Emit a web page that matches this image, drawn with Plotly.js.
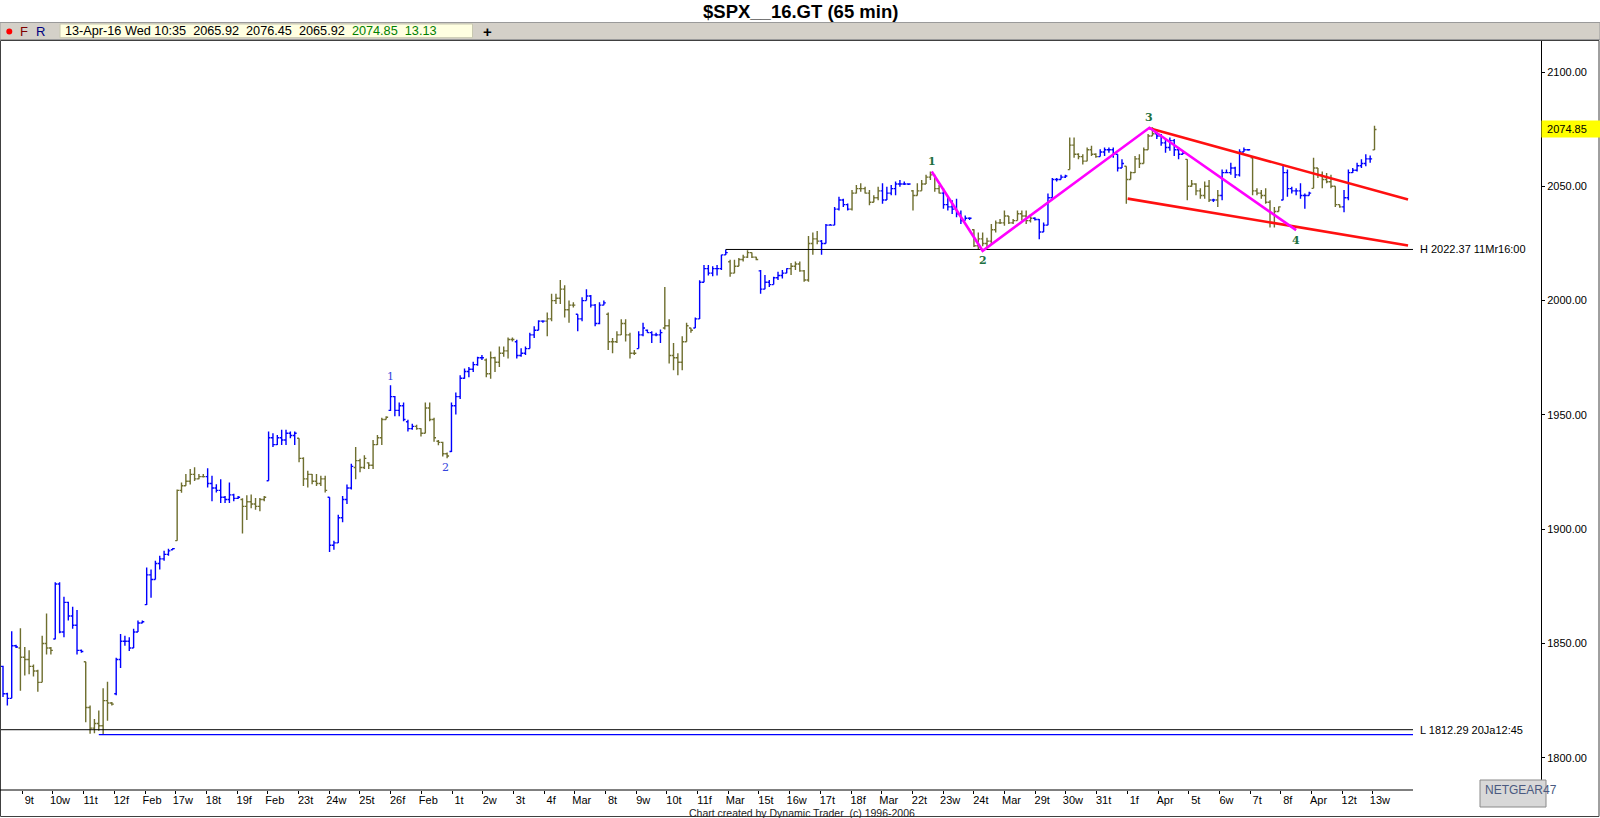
<!DOCTYPE html>
<html>
<head>
<meta charset="utf-8">
<script src="https://cdn.plot.ly/plotly-3.0.1.min.js"></script>
<style>
html,body{margin:0;padding:0;background:#ffffff;}
#chart{width:1600px;height:818px;}
</style>
</head>
<body>
<div id="chart"></div>
<script>
// ===== DATA: 65-min bars of $SPX, index 0 = first visible bar =====
const opens = [
1840,1828,1826,1849,1848,1844,1843,1840,1838,1833,1850,1848,
1852,1876,1855,1868,1862,1858,1847,1842,1822,1813,1815,1814,1825,1824,
1828,1843,1851,1851,1848,1855,1859,1867,1880,1878,1885,1887,1889,1891,
1895,1917,1919,1921,1924,1922,1923,
1923,1920,1918,1917,1914,1913,1915,1913.5,1913,1910,1912,1911,1910,1913,
1921.2,1940,1937,1940,1939,1942,1941,1939.8,1931,1922,1924,1921,1920,1922,
1914,1893,1894,1905,1913,1918,1927,1930,1927,1929,1928,1937,1940,1948,1952,1958,1952,
1954,1947,1944,1945,1944,1942,1953,1948,1938.5,1938,1933,
1934,1954,1958,1966,1969,1970,1972,1975,1974,1968,1975,1973,1977,1978,1983,
1982,1976,1977,1979,1985,1987,1991,1991,1992,2000,2001,2005,1996,1998,
1994,1992,2000,2002,1998,1990,1998,1994,1982,1982,1985,1990,1985,1977,1979,
1985,1987,1986,1985,1985,1988,1989,1976,1975,1973,1982,1988,1988,1992,2008,
2014,2012,2014,2014,2020,2017,2012,2015,2018,2019,2021,2019,
2013,2005,2008,2007,2010,2011,2012,2014,2015,2016,2013,2009,2025,2027,
2026,2025,2033,2033,2040,2044,2042,2040,2047,2049,2049,2047,2043,2045,
2048,2044,2047,2049,2051,2051,2051,2048,2046,2048,2051,2054,2055,2049,
2047,2042,2041,2040,2038,2035,2036,2031,2024,2027,2025,2026,2031,2034,
2034,2037,2034,2035,2038,2037,2035,2036,2035.5,2030,2033,2045,2053,2053,2054,
2057.3,2068,2064,2063,2061,2066,2064,2063,2065,2066,2066,2064,2058,
2058.8,2053,2056,2062,2060,2066,2072,2073,2072,2069,2067,2070,2066,2064,
2061.8,2050,2051,2048,2046,2050,2044,2044,2046,2056,2056,2058,2055,2065,2066,
2062.5,2048,2047,2046,2043,2034,2039,2044,2056,2049,2048,2048,2046,2046,
2049.1,2058,2055,2053,2052,2050,2042,2041,2045,2056,2057,2059,2060,2062,2065.92
];
const highs = [
1840.3,1828.5,1855.4,1849.5,1856.7,1848.5,1847,1840.8,1838.5,1853.4,1863.1,1848.5,
1876.8,1876.8,1870.5,1868.3,1866.1,1864.6,1847.4,1842,1822.9,1817,1820.7,1830.4,1833.3,1824.4,
1843.8,1854.2,1853.4,1852.7,1856.4,1860.1,1860.1,1883.2,1882.4,1886.2,1888.4,1890.6,1891.4,1891.8,
1917.4,1920.4,1924.1,1926.3,1927.1,1924.1,1924.1,
1926.7,1923.4,1919.7,1921.9,1914.5,1920.4,1915.5,1914.5,1913.5,1914.8,1915.2,1913.7,1913.7,1914.5,
1942.7,1942,1941.2,1943.5,1943.5,1942.7,1942.7,1939.8,1931.5,1925.6,1924.1,1924.1,1923.4,1923.4,
1914,1895,1906.3,1914.5,1919.5,1928.6,1936,1930.8,1932.3,1929.3,1939,1941.2,1948.7,1949.4,1963,1958.3,1955.4,
1955.4,1947.9,1946.1,1945.7,1944.2,1955.4,1955.4,1948.7,1939,1938.3,1933.5,
1955.4,1959.8,1967.3,1970.3,1971,1973.2,1975.4,1976.2,1974.7,1977.7,1975.4,1979.9,1979.9,1983.9,1983.9,
1982.9,1979.2,1979.9,1985.9,1988.8,1991.4,1991.4,1994.8,2003,2003,2009,2006.7,2000,1999.3,
1994,2001.5,2005,2002.5,1998.5,1999.3,2000,1994.8,1983.6,1986.6,1991.8,1991.8,1985.9,1978.4,1986.6,
1990.3,1987.4,1986.6,1985.9,1987.4,2006,1991.8,1981.4,1977,1984.4,1990.3,1988.1,1992.6,2008.9,2015.6,
2015.6,2015,2015.6,2020.1,2022.4,2017.9,2017.9,2018.6,2020.1,2022,2021,2019.2,
2013.4,2011.2,2009,2010.4,2012.6,2013.4,2014.2,2016.4,2017.1,2017.1,2013.4,2028.3,2029.8,2030.5,
2026.5,2033.5,2033.5,2040.9,2045.4,2044.5,2042.5,2048.4,2050.6,2051.3,2049.8,2048.4,2046.1,2049.8,
2051.3,2049.8,2050.6,2052.1,2052.8,2052.1,2051.3,2048.4,2051.3,2052.8,2055,2056.5,2055,2050.6,
2049.1,2045.4,2043.9,2044.6,2039.4,2037.2,2036.5,2031.2,2029.8,2029.8,2027.5,2033.5,2035,2035.7,
2039.4,2037,2035.7,2039.4,2039.4,2039.4,2037.9,2036.5,2035.7,2034.2,2046.9,2053.6,2053.6,2055,2055,
2071.4,2071.4,2064.5,2064,2067,2067.7,2064.5,2066.2,2067,2067,2067,2064,2061.8,
2058.8,2056.5,2063.2,2064,2067,2072.9,2075.8,2073.6,2072.9,2070.7,2071.4,2070.7,2067,2065.5,
2061.8,2052.8,2051.3,2049.1,2052.1,2052.8,2044.6,2048.4,2057.3,2057.3,2060.3,2058.5,2066.2,2067,2066.2,
2062.5,2049.1,2048.4,2049.1,2043.9,2040.9,2041.2,2059.5,2057.3,2049.8,2049.1,2051.3,2046.9,2047.6,
2062.5,2058,2056.5,2055.8,2055,2050,2042,2048.4,2057.3,2058,2060.3,2061.8,2064,2063.5,2076.45
];
const lows = [
1826.6,1822.9,1826,1848,1829.3,1836,1836.6,1835.6,1828.9,1833,1845.2,1845.2,
1851.9,1854.5,1852.7,1860.1,1856.4,1845.2,1846,1815.5,1810.5,1810.7,1811.8,1810.2,1816.2,1822.9,
1827.4,1839.3,1849,1846.7,1848,1855,1858.9,1866.8,1870,1878,1882.4,1886.2,1888.4,1891,
1895,1915.9,1919,1919.6,1921.1,1921.9,1922.6,
1918.2,1912.2,1916,1911.5,1911.5,1911.5,1912.2,1913.2,1898.1,1904,1909.2,1908.5,1907.8,1912.2,
1921.2,1936,1936.8,1936.8,1936.8,1939.8,1936.8,1929.3,1918.9,1918.2,1919.7,1918.9,1918.9,1916,
1890,1891,1894,1903,1911,1917.4,1921.9,1924.9,1926.3,1926.3,1926.3,1936.8,1936.8,1948,1951.7,1949.4,1949.4,
1947.2,1942.7,1943.5,1943.5,1940.5,1942,1947.2,1938.3,1936.7,1931.8,1931,
1933.8,1950.2,1957,1965.8,1966.5,1968.8,1971.5,1974,1966.5,1965.8,1968.8,1971,1975.4,1974.7,1982.1,
1974.7,1975.4,1976.2,1979,1983.6,1987,1990.3,1984.4,1991,1998.5,1998.5,1992.6,1990.3,1997,
1986.6,1991,2000,1997,1988.8,1989.6,1998,1978.4,1977,1981.5,1985,1982.1,1974.7,1976.2,1979,
1984.4,1985.9,1981.4,1984.4,1981.4,1987.4,1972.5,1969.5,1967.3,1969.5,1982,1985.9,1988,1992,2008,
2011,2010.6,2011,2013.4,2020,2010.4,2012,2015,2017.1,2018.6,2018.6,2017.6,
2003,2005,2006,2007,2009,2009.7,2012,2011.2,2013.4,2012.6,2008.2,2008.2,2020.1,2024.6,
2020.1,2025,2032.7,2033,2039.4,2040.9,2039.4,2039.4,2046.9,2047.6,2046.9,2041.7,2043,2043.9,
2042.4,2044,2046.1,2046.1,2049.8,2050.6,2050.6,2039.4,2046,2048,2051,2052.8,2047.6,2046.9,
2040.2,2039.4,2037.9,2036.5,2033.5,2035,2035.3,2023.5,2022.5,2023.8,2023.1,2024.6,2029.8,2033.5,
2032.7,2033.5,2033.5,2035,2035,2033.5,2034.2,2035,2026.8,2030,2033,2045,2052.1,2053,2053.6,
2057.3,2062.5,2061.8,2059.5,2061,2063.2,2062.5,2063,2063.2,2064.7,2062.5,2056.5,2058,
2042.4,2053,2055.8,2058,2060,2066,2072,2070.7,2067.7,2064.7,2065.5,2063.2,2061.8,2064,
2043.9,2049.8,2046.1,2044.6,2044.6,2043.1,2043.1,2040.9,2043.9,2055.8,2055,2053.6,2054.3,2065,2065.5,
2046.1,2046.1,2044.6,2042.4,2032,2032,2039,2043.9,2045.4,2046.9,2046.1,2044.6,2040.2,2046,
2049.1,2053.6,2049.1,2051.3,2049.1,2040.9,2040.6,2038.7,2043.9,2055.8,2056.5,2058,2058.8,2060.3,2065.92
];
const closes = [
1828,1826,1849,1848.5,1844,1843,1840,1838,1833,1850,1848,1847,
1876,1855,1868,1862,1858,1847,1846.5,1822,1813,1815,1814,1825,1824,1823.5,
1843,1851,1851,1848,1855,1859,1859.5,1880,1878,1885,1887,1889,1890.5,1891.5,
1917,1919,1921,1924,1922,1923,1923,
1920,1918,1917,1914,1913,1915,1913.5,1914,1910,1912,1911,1910,1913,1914,
1940,1937,1940,1939,1942,1941,1942,1931,1922,1924,1921,1920,1922,1917,
1893,1894,1905,1913,1918,1927.5,1930,1927,1931,1928,1937,1940,1948,1949,1958,1952,1954,
1948,1944,1945,1944,1942,1953,1948,1940,1938,1933,1932,
1954,1958,1966,1969,1970,1972,1975,1975,1968,1975,1973,1977,1978,1983,1983,
1976,1977,1979,1985,1987,1991,1991,1992,2000,2001,2005,1996,1998,1998,
1992,2000,2002,1998,1990,1998,1999,1982,1982,1985,1990,1985,1977,1977,1985,
1988,1986,1985,1985,1986,1989,1976,1975,1973,1982,1989,1987,1992,2008,2014,
2012,2014,2014,2020,2021,2012,2015,2018,2019,2021,2019,2018,
2005,2008,2007,2010,2011,2012,2014,2015,2016,2013,2009,2025,2027,2026,
2025,2033,2033,2040,2044,2042,2040,2047,2049,2049,2047,2043,2045,2048,
2044,2047,2049,2051,2051,2051,2051,2046,2048,2051,2054,2055,2049,2047,
2042,2041,2040,2038,2035,2036,2036,2024,2027,2025,2026,2031,2034,2034,
2037,2034,2035,2038,2037,2035,2036,2035.5,2030,2033,2045,2053,2053,2054,2054.5,
2068,2064,2063,2061,2066,2064,2063,2065,2066,2066,2064,2058,2060,
2053,2056,2062,2060,2066,2072,2073,2072,2069,2067,2070,2066,2064,2064.5,
2050,2051,2048,2046,2050,2044,2044,2046,2056,2056,2058,2055,2065,2066,2066,
2048,2047,2046,2043,2034,2039,2041,2056,2049,2048,2048,2046,2046,2047,
2058,2055,2053,2052,2050,2042,2041,2045,2056,2057,2059,2060,2062,2062,2074.85
];
// bar colour class: B = blue swing, O = olive swing
const trend = (
"BBBBOOOOOOOO" + "BBBBBBBOOOOOOO" + "BBBBBBBBBBBBBB" + "OOOOOOO" +
"BBBBBBBBOOOOOO" + "BBBBBBBOOOOOOO" + "BBBBBBOOOOOOOOBBB" +
"BBBOOOOOOOO" + "BBBBBBBBOOOOOOO" + "BBBBBBBOOOOOOO" + "BBBBBBBOOOOOOOB" +
"BBBBBOOOOOOOBBB" + "BBBBBOOOOOOO" + "BBBBBBBOOOOOOO" + "BBBBBBBOOOOOOO" +
"BBBBBBBOOOOOOO" + "BBBBBBBOOOOOOO" + "OOOOOOOBBBBBBBB" + "OOOOOOOBBBBBB" +
"OOOOOOOBBBBBBB" + "OOOOOOBOBBBBBBB" + "OOOOOOOBBBBBBB" + "OOOOOOOBBBBBBBO"
).split('');

// x-axis day labels
const dayLabels = ['9t','10w','11t','12f','Feb','17w','18t','19f','Feb','23t','24w','25t','26f',
 'Feb','1t','2w','3t','4f','Mar','8t','9w','10t','11f','Mar','15t','16w','17t','18f',
 'Mar','22t','23w','24t','Mar','29t','30w','31t','1f','Apr','5t','6w','7t','8f','Apr','12t','13w'];
const priceTicks = [1800,1850,1900,1950,2000,2050,2100];

// reference levels
const levelHigh = 2022.37, levelHighText = 'H 2022.37 11Mr16:00', levelHighBar = 166;
const levelLow = 1812.29, levelLowText = 'L 1812.29 20Ja12:45';
const lowLineLevel = 1810.1, lowLineBar = 22;

// wave count (magenta) and labels
const waveBars = [213.3, 225, 263.3, 297];
const wavePrices = [2056.5, 2021.8, 2075.6, 2030.8];
const waveLabels = ['1','2','3','4'];
const waveAbove = [true,false,true,false];
const minorBars = [89, 101.7];
const minorPrices = [1963, 1931];
const minorLabels = ['1','2'];
const minorAbove = [true,false];

// red channel
const chanUpperBars = [263.3, 322.7], chanUpperPrices = [2075.4, 2044.2];
const chanLowerBars = [258.3, 322.7], chanLowerPrices = [2044.6, 2024.1];

// ===== LAYOUT CONSTANTS (pixels of the 1600x818 page) =====
const W = 1600, H = 818;
const BAR_PX = 4.354, BAR0_PX = 3;          // pixel spacing of bars
const bx = p => (p - BAR0_PX) / BAR_PX;     // pixel -> bar units
const AXIS_X = 1541;                         // price axis position
const PLOT_TOP = 41, PLOT_BOT = 790, DRAW_RIGHT = 1413;
const Y_REF_PX = 72, Y_REF_PRICE = 2100, PX_PER_PT = 2.286;
const priceAtPx = y => Y_REF_PRICE - (y - Y_REF_PX) / PX_PER_PT;
const px = x => x / W, py = y => 1 - y / H;
const TICK0 = 4.43, DAY_STEP = 7.05;
const XEND = bx(DRAW_RIGHT);
const FONT = 'Liberation Sans, Arial, sans-serif';

const BLUE = '#0000FF', OLIVE = '#6E6E2E';

const n = Math.min(opens.length, highs.length, lows.length, closes.length, trend.length);

function ohlcTrace(flag, color) {
  const idx = [];
  for (let i = 0; i < n; i++) if (trend[i] === flag) idx.push(i);
  return {
    type: 'ohlc', x: idx,
    open: idx.map(i => opens[i]), high: idx.map(i => highs[i]),
    low: idx.map(i => lows[i]), close: idx.map(i => closes[i]),
    increasing: {line: {color: color, width: 1.4}},
    decreasing: {line: {color: color, width: 1.4}},
    tickwidth: 0.45, hoverinfo: 'skip', showlegend: false
  };
}

function seg(xs, ys, color, width) {
  return {type: 'scatter', mode: 'lines', x: xs, y: ys, line: {color: color, width: width},
          hoverinfo: 'skip', showlegend: false};
}

const traces = [
  seg([bx(0), XEND], [levelLow, levelLow], '#000000', 1),
  seg([lowLineBar, XEND], [lowLineLevel, lowLineLevel], BLUE, 1.2),
  seg([levelHighBar, XEND], [levelHigh, levelHigh], '#000000', 1),
  ohlcTrace('B', BLUE),
  ohlcTrace('O', OLIVE),
  seg(chanUpperBars, chanUpperPrices, '#FF1010', 2.6),
  seg(chanLowerBars, chanLowerPrices, '#FF1010', 2.6),
  seg(waveBars, wavePrices, '#FF00FF', 2.6)
];

const tickvals = dayLabels.map((_, j) => TICK0 + DAY_STEP * j);

const annotations = [];
// title
annotations.push({xref:'paper', yref:'paper', x: px(800), y: py(12), text: '<b>$SPX__16.GT (65 min)</b>',
  showarrow:false, xanchor:'center', yanchor:'middle', font:{family: FONT, size:18.5, color:'#000'}});
// toolbar
annotations.push({xref:'paper', yref:'paper', x: px(23.5), y: py(31.5), text:'F', showarrow:false,
  xanchor:'center', yanchor:'middle', font:{family: FONT, size:13, color:'#800000'}});
annotations.push({xref:'paper', yref:'paper', x: px(40.5), y: py(31.5), text:'R', showarrow:false,
  xanchor:'center', yanchor:'middle', font:{family: FONT, size:13, color:'#000080'}});
const sp = '\u00a0\u00a0';
annotations.push({xref:'paper', yref:'paper', x: px(62.5), y: py(31.5),
  text: '13-Apr-16 Wed 10:35' + sp + '2065.92' + sp + '2076.45' + sp + '2065.92' + sp +
        '<span style="color:#008000">2074.85' + sp + '13.13</span>',
  showarrow:false, xanchor:'left', yanchor:'middle', font:{family: FONT, size:12.7, color:'#000'}});
annotations.push({xref:'paper', yref:'paper', x: px(487), y: py(31.5), text:'<b>+</b>', showarrow:false,
  xanchor:'center', yanchor:'middle', font:{family: FONT, size:15, color:'#000'}});
// level labels
annotations.push({xref:'paper', yref:'y', x: px(1418), y: levelHigh, text: levelHighText, showarrow:false,
  xanchor:'left', yanchor:'middle', font:{family: FONT, size:11, color:'#000'}});
annotations.push({xref:'paper', yref:'y', x: px(1418), y: levelLow, text: levelLowText, showarrow:false,
  xanchor:'left', yanchor:'middle', font:{family: FONT, size:11, color:'#000'}});
// last price box
annotations.push({xref:'paper', yref:'y', x: px(1541), y: closes[n-1], text: '\u00a0' + closes[n-1].toFixed(2) + '\u00a0\u00a0\u00a0\u00a0',
  showarrow:false, xanchor:'left', yanchor:'middle', bgcolor:'#FFFF00', borderpad:2,
  font:{family: FONT, size:11, color:'#000'}});
// wave labels
waveLabels.forEach((t, k) => annotations.push({x: waveBars[k], y: wavePrices[k], text: '<b>' + t + '</b>',
  showarrow:false, xanchor:'center', yanchor:'middle', yshift: waveAbove[k] ? 10 : -10,
  font:{family:'DejaVu Serif, serif', size:11, color:'#1E7040'}}));
minorLabels.forEach((t, k) => annotations.push({x: minorBars[k], y: minorPrices[k], text: t,
  showarrow:false, xanchor:'center', yanchor:'middle', yshift: minorAbove[k] ? 9 : -9,
  font:{family:'DejaVu Serif, serif', size:11, color:'#3344DD'}}));
// footer
annotations.push({xref:'paper', yref:'paper', x: px(802), y: py(812.5), text:'Chart created by Dynamic Trader\u00a0\u00a0(c) 1996-2006',
  showarrow:false, xanchor:'center', yanchor:'middle', font:{family: FONT, size:10.5, color:'#222'}});
// netgear box text
annotations.push({xref:'paper', yref:'paper', x: px(1483), y: py(790), text:'NETGEAR47',
  showarrow:false, xanchor:'left', yanchor:'middle', font:{family: FONT, size:12, color:'#4A5A80'}});

const shapes = [
  // toolbar band
  {type:'rect', xref:'paper', yref:'paper', x0: px(0), x1: px(1600), y0: py(22.5), y1: py(39.5),
   fillcolor:'#D4D0C8', line:{color:'#9A9A9A', width:1}, layer:'below'},
  {type:'rect', xref:'paper', yref:'paper', x0: px(60), x1: px(472.5), y0: py(24), y1: py(37.7),
   fillcolor:'#FFFFE1', line:{color:'#C8C8B0', width:1}, layer:'below'},
  {type:'circle', xref:'paper', yref:'paper', x0: px(6.3), x1: px(12.3), y0: py(28.5), y1: py(34.5),
   fillcolor:'#FF0000', line:{color:'#FF0000', width:0}},
  // outer frame
  {type:'rect', xref:'paper', yref:'paper', x0: px(0.5), x1: px(1599), y0: py(40.5), y1: py(816.5),
   line:{color:'#404040', width:1}},
  // x axis baseline
  {type:'line', xref:'paper', yref:'paper', x0: px(0), x1: px(DRAW_RIGHT), y0: py(PLOT_BOT), y1: py(PLOT_BOT),
   line:{color:'#000', width:1}},
  // netgear box
  {type:'rect', xref:'paper', yref:'paper', x0: px(1480), x1: px(1546), y0: py(780), y1: py(807),
   fillcolor:'#D8D8D8', line:{color:'#8A8A8A', width:1}}
];

const layout = {
  width: W, height: H,
  margin: {l:0, r:0, t:0, b:0, pad:0},
  paper_bgcolor: '#FFFFFF', plot_bgcolor: '#FFFFFF',
  showlegend: false, hovermode: false,
  xaxis: {
    type: 'linear', domain: [0, AXIS_X / W], range: [bx(0), bx(AXIS_X)],
    rangeslider: {visible: false}, fixedrange: true,
    showgrid: false, zeroline: false, showline: false,
    tickmode: 'array', tickvals: tickvals, ticktext: dayLabels,
    ticks: 'outside', ticklen: 3, tickcolor: '#000', tickwidth: 1,
    ticklabelshift: 7, ticklabelstandoff: -3,
    tickfont: {family: FONT, size: 11, color: '#000'}
  },
  yaxis: {
    domain: [py(PLOT_BOT), py(PLOT_TOP)], range: [priceAtPx(PLOT_BOT), priceAtPx(PLOT_TOP)],
    side: 'right', anchor: 'x', fixedrange: true,
    showgrid: false, zeroline: false, showline: true, linecolor: '#000', linewidth: 1,
    tickmode: 'array', tickvals: priceTicks, tickformat: '.2f',
    ticks: 'outside', ticklen: 3, tickcolor: '#000',
    tickfont: {family: FONT, size: 11, color: '#000'}
  },
  annotations: annotations,
  shapes: shapes
};

Plotly.newPlot('chart', traces, layout, {staticPlot: true, displayModeBar: false});
</script>
</body>
</html>
